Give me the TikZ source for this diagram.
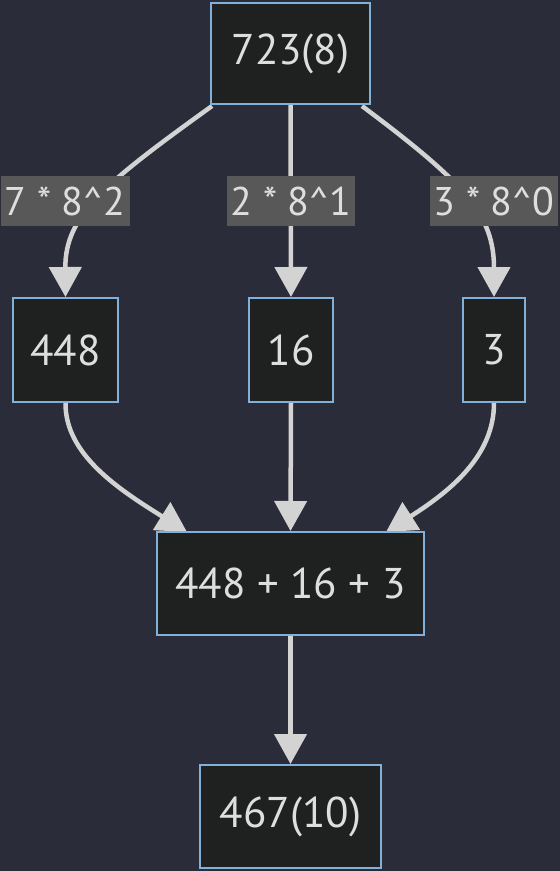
\documentclass[tikz,border=0pt]{standalone}
\usepackage{fontspec}
\setmainfont{PT Sans}
\usetikzlibrary{arrows.meta,calc}
\pgfdeclarelayer{bgfill}
\pgfdeclarelayer{edgelayer}
\pgfsetlayers{bgfill,edgelayer,main}
\definecolor{bgc}{RGB}{42,44,58}
\definecolor{nodefill}{RGB}{31,32,32}
\definecolor{nodeline}{RGB}{129,177,219}
\definecolor{edgec}{RGB}{211,211,211}
\definecolor{txt}{RGB}{222,222,222}
\definecolor{lblfill}{RGB}{88,88,88}
\begin{document}
\begin{tikzpicture}[x=1pt,y=-1pt,
  box/.style={draw=nodeline, line width=2pt, fill=nodefill, text=txt, inner sep=0pt,
    font=\fontsize{43}{50}\selectfont},
  lbl/.style={fill=lblfill, text=txt, inner sep=0pt, minimum height=50pt,
    font=\fontsize{40}{48}\selectfont},
  edge/.style={draw=edgec, line width=4.5pt, -{Triangle[width=32pt,length=30pt]}}]
\useasboundingbox (0,0) rectangle (560,871);
\begin{pgfonlayer}{bgfill}
\fill[bgc] (0,0) rectangle (560,871);
\end{pgfonlayer}
\node[box, minimum width=159pt, minimum height=101pt] (top) at (290.5,53.5) {723(8)};
\node[box, minimum width=105pt, minimum height=104pt] (n448) at (65.5,350) {448};
\node[box, minimum width=84pt, minimum height=104pt] (n16) at (291,350) {16};
\node[box, minimum width=62pt, minimum height=104pt] (n3) at (494,350) {3};
\node[box, minimum width=267pt, minimum height=103pt] (sum) at (290.5,583.5) {448 + 16 + 3};
\node[box, minimum width=181pt, minimum height=103pt] (res) at (290.5,816.5) {467(10)};
\node[lbl, minimum width=129pt] (l1) at (65,201) {7 * 8\textasciicircum 2};
\node[lbl, minimum width=128pt] (l2) at (291,201) {2 * 8\textasciicircum 1};
\node[lbl, minimum width=128pt] (l3) at (494,201) {3 * 8\textasciicircum 0};
\begin{pgfonlayer}{edgelayer}
\draw[edge] ($(top.south west)+(2,1)$) .. controls (105,183) and (65,215) .. (n448.north);
\draw[edge] (top.south) -- (n16.north);
\draw[edge] ($(top.south east)+(-9,1)$) .. controls (465,183) and (494,215) .. (n3.north);
\draw[edge] (n448.south) .. controls (65,455) and (120,490) .. ($(sum.north west)+(31,1)$);
\draw[edge] (n16.south) -- (sum.north);
\draw[edge] (n3.south) .. controls (494,455) and (452,490) .. ($(sum.north east)+(-39,1)$);
\draw[edge] (sum.south) -- (res.north);
\end{pgfonlayer}
\end{tikzpicture}
\end{document}
